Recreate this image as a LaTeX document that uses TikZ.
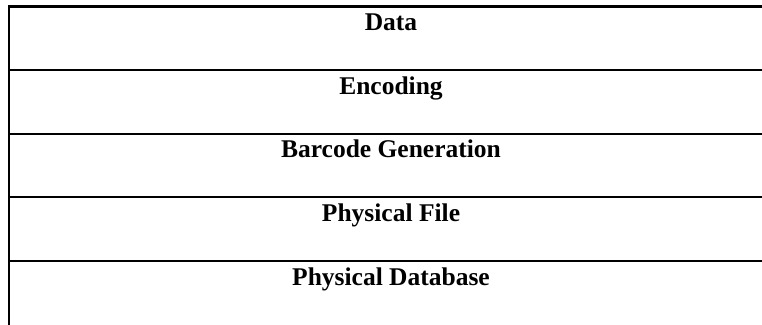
\documentclass[tikz,border=0pt]{standalone}
\usepackage{fontspec}
\setmainfont{Liberation Serif}
\begin{document}
\begin{tikzpicture}[x=1bp,y=-1bp,
  rule/.style={line width=2.2bp,line cap=rect},
  celltext/.style={anchor=base,inner sep=0pt,font=\bfseries\fontsize{25.5bp}{30bp}\selectfont}]
\useasboundingbox (0,0) rectangle (762,324);
\foreach \y in {6.5,70.1,133.7,197.3,260.9}{
  \draw[rule] (9,\y) -- (775,\y);
}
\draw[rule] (9,6.5) -- (9,330);
\node[celltext] (data) at (391,30.7) {Data};
\node[celltext] (enc) at (391,94.3) {Encoding};
\node[celltext] (bar) at (391,157.9) {Barcode Generation};
\node[celltext] (file) at (391,221.5) {Physical File};
\node[celltext] (db) at (391,285.1) {Physical Database};
\end{tikzpicture}
\end{document}
